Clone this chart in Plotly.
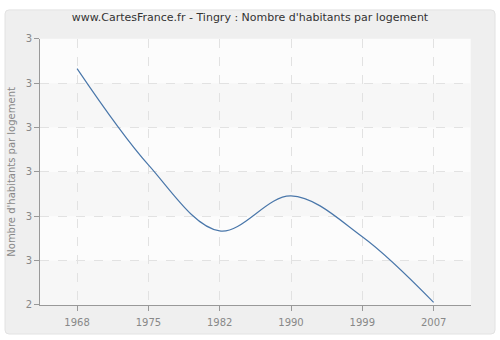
import plotly.graph_objects as go

years = ["1968", "1975", "1982", "1990", "1999", "2007"]
values = [2.933, 2.716, 2.567, 2.646, 2.554, 2.406]
y_ticks = [2.4, 2.5, 2.6, 2.7, 2.8, 2.9, 3.0]
y_tick_labels = ["2", "3", "3", "3", "3", "3", "3"]

title = "www.CartesFrance.fr - Tingry : Nombre d'habitants par logement"
y_title = "Nombre d'habitants par logement"

FONT = "DejaVu Sans"

fig = go.Figure()
fig.add_trace(go.Scatter(
    x=years, y=values, mode="lines",
    line=dict(color="#4a77aa", width=1.2, shape="spline", smoothing=1.0),
    hoverinfo="skip", showlegend=False,
))

# outer rounded panel
fig.add_shape(type="path", xref="paper", yref="paper",
              path="M 0.018,0 L 0.982,0 Q 0.99,0 0.99,0.012 L 0.99,0.973 Q 0.99,0.985 0.982,0.985 "
                   "L 0.018,0.985 Q 0.01,0.985 0.01,0.973 L 0.01,0.012 Q 0.01,0 0.018,0 Z",
              fillcolor="#efefef", line=dict(color="#e2e2e2", width=1), layer="below")

# plot area background
fig.add_shape(type="rect", xref="x domain", yref="y domain", x0=0, x1=1, y0=0, y1=1,
              fillcolor="#fcfcfc", line=dict(width=0), layer="below")

# alternating plain bands in plot area
for i in range(0, len(y_ticks) - 1, 2):
    fig.add_shape(type="rect", xref="x domain", yref="y",
                  x0=0, x1=1, y0=y_ticks[i], y1=y_ticks[i + 1],
                  fillcolor="#f7f7f7", line=dict(width=0), layer="below")

fig.update_layout(
    width=500, height=340,
    margin=dict(l=0, r=0, t=0, b=0),
    paper_bgcolor="white",
    plot_bgcolor="#fcfcfc",
    title=dict(text=title, x=0.5, xanchor="center", y=0.949, yanchor="middle",
               font=dict(family=FONT, size=11, color="#333333")),
    font=dict(family=FONT, size=10, color="#888888"),
)

fig.update_xaxes(
    type="category", range=[-0.52, 5.52],
    domain=[40 / 500, 470.7 / 500],
    showline=True, linecolor="#999999", linewidth=1,
    ticks="outside", ticklen=5, tickcolor="#999999",
    ticklabelstandoff=3,
    showgrid=True, gridcolor="#e2e2e2", griddash="dash", gridwidth=1,
    tickfont=dict(family=FONT, size=10, color="#888888"),
    zeroline=False,
)
fig.update_yaxes(
    range=[2.4, 3.0],
    domain=[1 - 310 / 340, 1 - 35 / 340],
    tickvals=y_ticks, ticktext=y_tick_labels,
    showline=True, linecolor="#999999", linewidth=1,
    ticks="outside", ticklen=5, tickcolor="#999999",
    showgrid=True, gridcolor="#e2e2e2", griddash="dash", gridwidth=1,
    tickfont=dict(family=FONT, size=10, color="#888888"),
    title=dict(text=y_title, font=dict(family=FONT, size=10, color="#888888"), standoff=8),
    zeroline=False,
)

fig.write_html("out.html")
